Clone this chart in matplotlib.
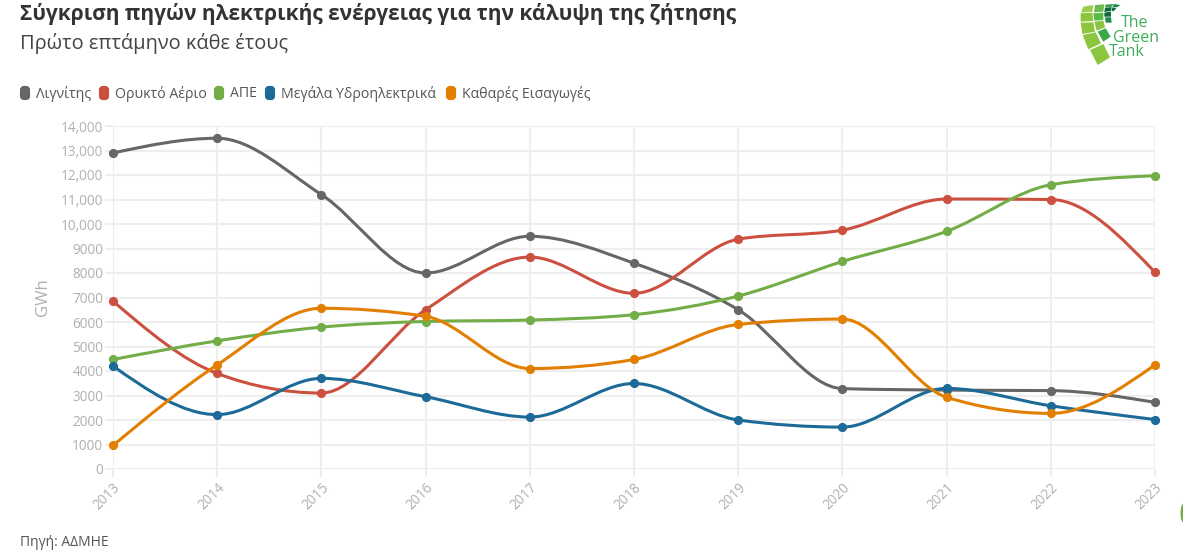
import numpy as np
import matplotlib
matplotlib.use("Agg")
import matplotlib.pyplot as plt
from matplotlib.patches import PathPatch, Polygon, FancyBboxPatch, Ellipse
from matplotlib.path import Path

plt.rcParams['font.family'] = ['Open Sans', 'DejaVu Sans']

# data
years = [2013, 2014, 2015, 2016, 2017, 2018, 2019, 2020, 2021, 2022, 2023]
lignite = [12900, 13500, 11200, 8000, 9500, 8400, 6500, 3280, 3220, 3200, 2720]
gas = [6850, 3900, 3100, 6500, 8650, 7170, 9380, 9750, 11020, 11000, 8030]
res = [4470, 5230, 5790, 6020, 6080, 6300, 7060, 8470, 9700, 11600, 11970]
hydro = [4200, 2220, 3700, 2950, 2120, 3490, 2000, 1710, 3290, 2580, 2020]
imports = [960, 4250, 6560, 6230, 4100, 4470, 5900, 6120, 2930, 2270, 4250]

series_names = ["Λιγνίτης", "Ορυκτό Αέριο", "ΑΠΕ", "Μεγάλα Υδροηλεκτρικά", "Καθαρές Εισαγωγές"]
series_values = [lignite, gas, res, hydro, imports]
series_colors = ["#666666", "#cc5040", "#72ad47", "#1c6a97", "#e37f00"]
y_ticks = [0, 1000, 2000, 3000, 4000, 5000, 6000, 7000, 8000, 9000, 10000, 11000, 12000, 13000, 14000]
y_labels = ["0", "1000", "2000", "3000", "4000", "5000", "6000", "7000", "8000", "9000",
            "10,000", "11,000", "12,000", "13,000", "14,000"]

W, H = 1183, 552


def monotone_path(x, y):
    # same curve as d3 monotoneX, written out as bezier segments
    x = np.asarray(x, float)
    y = np.asarray(y, float)
    h = np.diff(x)
    s = np.diff(y) / h
    t = np.zeros(len(x))
    for i in range(1, len(x) - 1):
        if s[i - 1] * s[i] > 0:
            p = (s[i - 1] * h[i] + s[i] * h[i - 1]) / (h[i - 1] + h[i])
            t[i] = (np.sign(s[i - 1]) + np.sign(s[i])) * min(abs(s[i - 1]), abs(s[i]), 0.5 * abs(p))
    t[0] = (3 * s[0] - t[1]) / 2
    t[-1] = (3 * s[-1] - t[-2]) / 2
    verts = [(x[0], y[0])]
    codes = [Path.MOVETO]
    for i in range(len(h)):
        d = h[i] / 3
        verts += [(x[i] + d, y[i] + d * t[i]), (x[i + 1] - d, y[i + 1] - d * t[i + 1]), (x[i + 1], y[i + 1])]
        codes += [Path.CURVE4] * 3
    return Path(verts, codes)


fig = plt.figure(figsize=(W / 100, H / 100), dpi=100, facecolor="white")

# plot area in pixels: x 113-1155, y 126-469
ax = fig.add_axes([113 / W, 1 - 469 / H, (1155 - 113) / W, (469 - 126) / H])
ax.set_xlim(2013, 2023)
ax.set_ylim(0, 14000)
for spine in ax.spines.values():
    spine.set_visible(False)
ax.set_xticks(years)
ax.set_yticks(y_ticks)
ax.set_yticklabels(y_labels)
ax.grid(True, color="#eeeeee", linewidth=1.5, zorder=0)
ax.set_axisbelow(True)
ax.tick_params(axis="y", length=6, color="#eeeeee", width=1.5, labelsize=9.8, labelcolor="#b0b0b0", pad=1)
ax.tick_params(axis="x", length=6, color="#eeeeee", width=1.5, labelsize=9.8, labelcolor="#b0b0b0", pad=2)
plt.setp(ax.get_xticklabels(), rotation=45, ha="right", va="top", rotation_mode="anchor")
ax.set_ylabel("GWh", fontsize=12, color="#b0b0b0", labelpad=7)

for name, vals, col in zip(series_names, series_values, series_colors):
    ax.add_patch(PathPatch(monotone_path(years, vals), fill=False, edgecolor=col, linewidth=2.2,
                           zorder=3, clip_on=False))
    ax.plot(years, vals, linestyle="none", marker="o", markersize=5.6, color=col, zorder=4,
            clip_on=False, label=name)

# overlay in pixel coordinates for titles, legend and logo
ov = fig.add_axes([0, 0, 1, 1], facecolor="none")
ov.set_xlim(0, W)
ov.set_ylim(H, 0)
ov.axis("off")

ov.text(20, 14, "Σύγκριση πηγών ηλεκτρικής ενέργειας για την κάλυψη της ζήτησης",
        fontsize=15, fontweight="bold", color="#333333", va="center")
ov.text(20, 43, "Πρώτο επτάμηνο κάθε έτους", fontsize=14.4, color="#444444", va="center")
ov.text(20, 542, "Πηγή: ΑΔΜΗΕ", fontsize=10, color="#555555", va="center")

legend_x = [20, 99, 214, 265, 446]
for lx, name, col in zip(legend_x, series_names, series_colors):
    ov.add_patch(FancyBboxPatch((lx + 2, 88), 6, 10, boxstyle="round,pad=0,rounding_size=2",
                                mutation_aspect=1, facecolor=col, edgecolor=col, linewidth=3))
    ov.text(lx + 16, 93.5, name, fontsize=10.2, color="#555555", va="center")

# logo cells, corners measured in the crop at (1075, 0), scale 3
logo_cells = [
    ("#8cc63f", [(45, 150), (85, 132), (105, 172), (68, 195)]),
    ("#8cc63f", [(23, 105), (62, 97), (78, 130), (40, 148)]),
    ("#8cc63f", [(17, 68), (55, 67), (60, 95), (22, 102)]),
    ("#8cc63f", [(17, 40), (52, 38), (55, 63), (17, 65)]),
    ("#9ccc50", [(25, 20), (55, 15), (52, 35), (18, 38)]),
    ("#39a845", [(68, 95), (92, 85), (107, 110), (85, 125)]),
    ("#8cc63f", [(58, 65), (85, 62), (90, 82), (65, 92)]),
    ("#5cb947", [(55, 40), (85, 38), (85, 60), (58, 62)]),
    ("#6cbb50", [(60, 15), (88, 13), (85, 35), (57, 37)]),
    ("#2f9e44", [(92, 14), (116, 12), (110, 20), (90, 23)]),
    ("#1d8a46", [(118, 12), (136, 15), (126, 22), (112, 20)]),
    ("#0b6b3a", [(90, 24), (110, 21), (108, 33), (88, 36)]),
    ("#0b6b3a", [(112, 22), (124, 24), (116, 34), (110, 32)]),
    ("#0b6b3a", [(88, 38), (108, 35), (108, 50), (88, 50)]),
    ("#1d8a46", [(90, 52), (108, 52), (110, 68), (92, 68)]),
]
for col, corners in logo_cells:
    pts = [(1075 + cx / 3, cy / 3) for cx, cy in corners]
    ov.add_patch(Polygon(pts, closed=True, facecolor=col, edgecolor="none"))
for txt, tx, ty in [("The", 1121, 23), ("Green", 1113, 38), ("Tank", 1109, 52)]:
    ov.text(tx, ty, txt, fontsize=11.5, color="#3fae5a", va="center")

# small green blob cut off by the right edge
ov.add_patch(Ellipse((1184, 513), 7, 20, facecolor="#72ad47", edgecolor="none", clip_on=True))

fig.savefig("out.png", dpi=100, facecolor="white")
